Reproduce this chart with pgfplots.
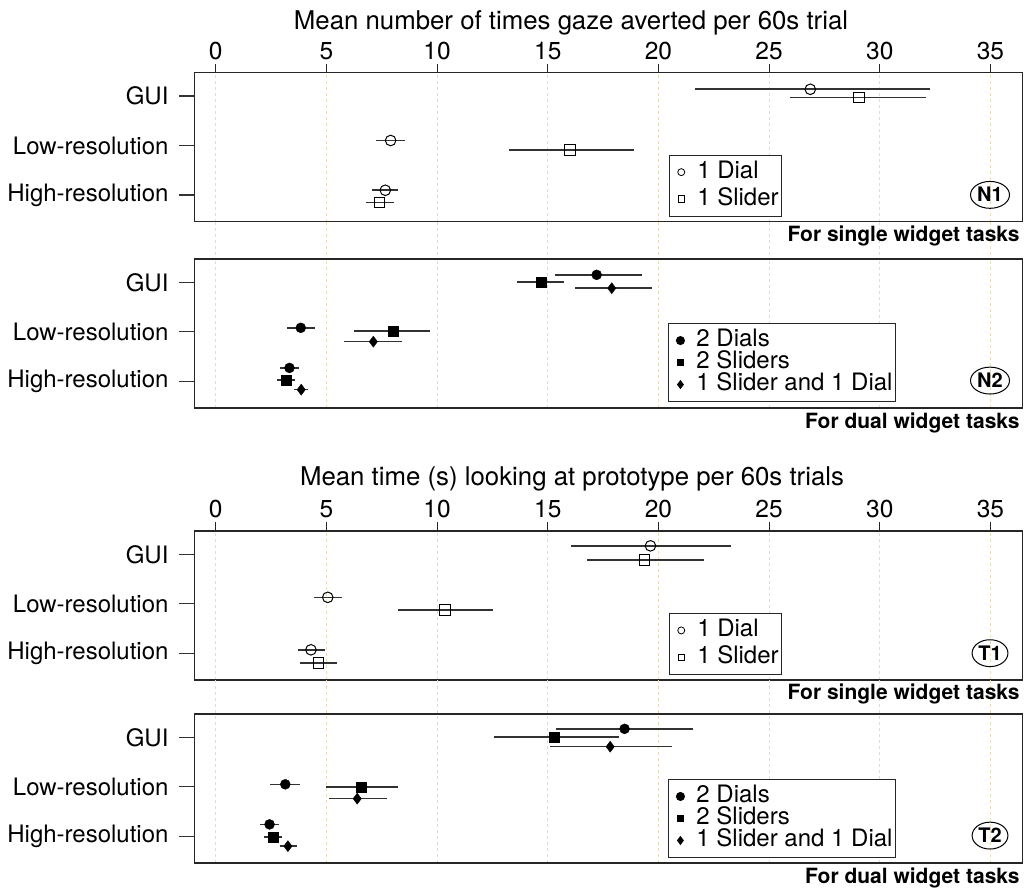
\documentclass[border=0pt]{standalone}
\usepackage{fontspec}
\setmainfont{TeX Gyre Heros}
\usepackage{pgfplots}
\pgfplotsset{compat=1.18}
\usetikzlibrary{shapes.geometric}
\definecolor{gridc}{RGB}{232,222,190}
\definecolor{barc}{RGB}{50,50,50}

\tikzset{
 badge/.style={draw, ellipse, line width=1pt, font=\bfseries\fontsize{20}{20}\selectfont, inner xsep=1pt, inner ysep=2.5pt, text height=14pt, text depth=0pt},
 task/.style={anchor=base east, inner sep=0pt, font=\bfseries\fontsize{21}{21}\selectfont},
}
\pgfplotsset{
 panel/.style={
  scale only axis, width=828pt, height=149pt, anchor=north west,
  xmin=-0.97, xmax=36.44, ymin=0.46, ymax=3.47,
  clip=false,
  axis line style={black!85, line width=1.1pt},
  ytick={1,2,3}, yticklabels={High-resolution,Low-resolution,GUI},
  ytick pos=left, tick align=outside,
  ytick style={black!80, line width=1.1pt, /pgfplots/major tick length=15pt},
  yticklabel style={font=\fontsize{24}{28}\selectfont, xshift=-18pt},
  xtick={0,5,...,35},
  xmajorgrids, major x grid style={gridc, dashed, line width=0.8pt},
  /pgf/number format/assume math mode=true,
  legend cell align=left,
  legend style={draw=black!85, line width=1pt, font=\fontsize{24}{24}\selectfont, anchor=north west, inner xsep=3pt, inner ysep=6pt, nodes={inner sep=0pt, text height=17pt, text depth=5pt}},
  legend image code/.code={\path[draw=none, fill=none] (0pt,-3pt) rectangle (25pt,3pt); \draw[##1] plot coordinates {(9pt,0pt)};},
 },
 toppanel/.style={xtick pos=right, xticklabel pos=right, xtick style={black!85, line width=1.1pt, /pgfplots/major tick length=8.7pt}, xticklabel style={font=\fontsize{24.5}{28}\selectfont, yshift=5.5pt}},
 botpanel/.style={xtick pos=right, xticklabels={}, xtick style={draw=none}},
 eb/.style={only marks, forget plot, error bars/x dir=both, error bars/x explicit, error bars/error mark=none, error bars/error bar style={barc, line width=1.6pt}},
 oc/.style={mark=o, mark size=5.3pt, mark options={fill=white, draw=black, line width=1pt}},
 os/.style={mark=square, mark size=5.3pt, mark options={fill=white, draw=black, line width=1pt}},
 fc/.style={mark=*, mark size=5pt, mark options={fill=black, draw=black}},
 fs/.style={mark=square*, mark size=5pt, mark options={fill=black, draw=black}},
 fd/.style={mark=diamond*, mark size=5.5pt, mark options={fill=black, draw=black}},
}

\begin{document}
\begin{tikzpicture}
\path (0pt,0pt) rectangle (1024pt,-890pt);

\node[anchor=base, font=\fontsize{25.8}{26}\selectfont] at (571pt,-29.5pt) {Mean number of times gaze averted per 60s trial};
\node[anchor=base, font=\fontsize{25.8}{26}\selectfont] at (572pt,-485pt) {Mean time (s) looking at prototype per 60s trials};

% ---------------- N1
\begin{axis}[panel, toppanel, at={(194.3pt,-72.7pt)}, legend style={at={(0.573,0.45)}, row sep=5pt}]
\pgfplotsinvokeforeach{0,5,10,15,20,25,30,35}{\draw[gridc, dashed, line width=0.8pt] (axis cs:#1,0.46) -- ([yshift=-37pt]axis cs:#1,0.46);}
\addplot[eb, oc] coordinates {
 (26.86,3.135) += (5.42,0) -= (5.23,0)
 (7.90,2.10) += (0.66,0) -= (0.68,0)
 (7.66,1.095) += (0.58,0) -= (0.61,0)
};
\addplot[eb, os] coordinates {
 (29.05,2.97) += (3.04,0) -= (3.09,0)
 (16.00,1.905) += (2.89,0) -= (2.73,0)
 (7.39,0.845) += (0.68,0) -= (0.59,0)
};
\addlegendimage{only marks, mark=o, mark size=3.5pt, black, line width=0.8pt}
\addlegendentry{1 Dial}
\addlegendimage{only marks, mark=square, mark size=3.3pt, black, line width=0.8pt}
\addlegendentry{1 Slider}
\node[badge] at (rel axis cs:0.961,0.18) {N1};
\node[task] at ([xshift=-2.5pt,yshift=-19.5pt]rel axis cs:1,0) {For single widget tasks};
\end{axis}

% ---------------- N2
\begin{axis}[panel, botpanel, at={(194.3pt,-259pt)}, legend style={at={(0.572,0.57)}, row sep=0pt}]
\addplot[eb, fc] coordinates {
 (17.21,3.15) += (2.04,0) -= (1.90,0)
 (3.84,2.08) += (0.63,0) -= (0.63,0)
 (3.33,1.27) += (0.44,0) -= (0.44,0)
};
\addplot[eb, fs] coordinates {
 (14.70,3.00) += (1.05,0) -= (1.09,0)
 (8.02,2.02) += (1.68,0) -= (1.77,0)
 (3.16,1.02) += (0.44,0) -= (0.41,0)
};
\addplot[eb, fd] coordinates {
 (17.89,2.88) += (1.82,0) -= (1.65,0)
 (7.12,1.80) += (1.31,0) -= (1.33,0)
 (3.86,0.83) += (0.30,0) -= (0.34,0)
};
\addlegendimage{only marks, mark=*, mark size=4pt, black}
\addlegendentry{2 Dials}
\addlegendimage{only marks, mark=square*, mark size=3.4pt, black}
\addlegendentry{2 Sliders}
\addlegendimage{only marks, mark=diamond*, mark size=3.8pt, black}
\addlegendentry{1 Slider and 1 Dial}
\node[badge] at (rel axis cs:0.961,0.184) {N2};
\node[task] at ([xshift=-2.5pt,yshift=-20pt]rel axis cs:1,0) {For dual widget tasks};
\end{axis}

% ---------------- T1
\begin{axis}[panel, toppanel, at={(194.3pt,-531pt)}, legend style={at={(0.573,0.45)}, row sep=5pt}]
\pgfplotsinvokeforeach{0,5,10,15,20,25,30,35}{\draw[gridc, dashed, line width=0.8pt] (axis cs:#1,0.46) -- ([yshift=-34pt]axis cs:#1,0.46);}
\addplot[eb, oc] coordinates {
 (19.64,3.17) += (3.62,0) -= (3.60,0)
 (5.06,2.13) += (0.65,0) -= (0.64,0)
 (4.30,1.07) += (0.63,0) -= (0.58,0)
};
\addplot[eb, os] coordinates {
 (19.37,2.88) += (2.68,0) -= (2.62,0)
 (10.35,1.88) += (2.17,0) -= (2.13,0)
 (4.64,0.80) += (0.85,0) -= (0.82,0)
};
\addlegendimage{only marks, mark=o, mark size=3.5pt, black, line width=0.8pt}
\addlegendentry{1 Dial}
\addlegendimage{only marks, mark=square, mark size=3.3pt, black, line width=0.8pt}
\addlegendentry{1 Slider}
\node[badge] at (rel axis cs:0.961,0.18) {T1};
\node[task] at ([xshift=-2.5pt,yshift=-19.5pt]rel axis cs:1,0) {For single widget tasks};
\end{axis}

% ---------------- T2
\begin{axis}[panel, botpanel, at={(194.3pt,-714pt)}, legend style={at={(0.572,0.564)}, row sep=0pt}]
\addplot[eb, fc] coordinates {
 (18.47,3.17) += (3.11,0) -= (3.11,0)
 (3.14,2.05) += (0.65,0) -= (0.69,0)
 (2.43,1.24) += (0.44,0) -= (0.41,0)
};
\addplot[eb, fs] coordinates {
 (15.29,3.00) += (2.94,0) -= (2.72,0)
 (6.59,2.00) += (1.65,0) -= (1.63,0)
 (2.60,0.99) += (0.39,0) -= (0.41,0)
};
\addplot[eb, fd] coordinates {
 (17.82,2.81) += (2.77,0) -= (2.70,0)
 (6.39,1.76) += (1.36,0) -= (1.26,0)
 (3.26,0.80) += (0.39,0) -= (0.34,0)
};
\addlegendimage{only marks, mark=*, mark size=4pt, black}
\addlegendentry{2 Dials}
\addlegendimage{only marks, mark=square*, mark size=3.4pt, black}
\addlegendentry{2 Sliders}
\addlegendimage{only marks, mark=diamond*, mark size=3.8pt, black}
\addlegendentry{1 Slider and 1 Dial}
\node[badge] at (rel axis cs:0.961,0.184) {T2};
\node[task] at ([xshift=-2.5pt,yshift=-20pt]rel axis cs:1,0) {For dual widget tasks};
\end{axis}
\end{tikzpicture}
\end{document}
